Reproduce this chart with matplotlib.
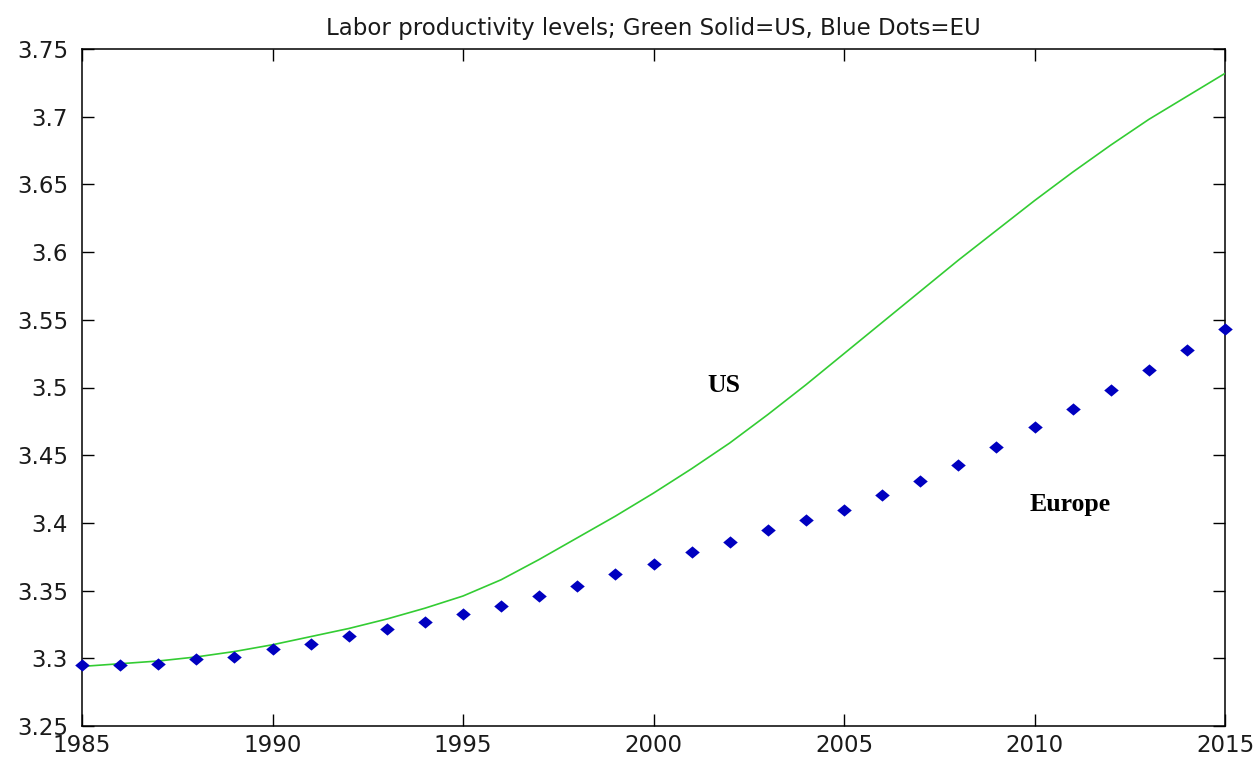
import matplotlib
matplotlib.use("Agg")
import matplotlib.pyplot as plt
from matplotlib.path import Path

years = list(range(1985, 2016))

us_levels = [3.294, 3.296, 3.298, 3.301, 3.305, 3.310, 3.316, 3.322, 3.329, 3.337,
             3.346, 3.358, 3.373, 3.389, 3.405, 3.422, 3.440, 3.459, 3.480, 3.502,
             3.525, 3.548, 3.571, 3.594, 3.616, 3.638, 3.659, 3.679, 3.698, 3.715,
             3.732]

eu_levels = [3.295, 3.295, 3.296, 3.2995, 3.301, 3.3067, 3.3108, 3.3167, 3.3214, 3.3269,
             3.333, 3.3389, 3.3463, 3.3535, 3.3621, 3.3695, 3.3784, 3.3858, 3.3946, 3.402,
             3.4096, 3.4207, 3.4313, 3.4429, 3.456, 3.4707, 3.4838, 3.4982, 3.5131, 3.5276,
             3.5435]

x_ticks = [1985, 1990, 1995, 2000, 2005, 2010, 2015]
y_ticks = [3.25, 3.3, 3.35, 3.4, 3.45, 3.5, 3.55, 3.6, 3.65, 3.7, 3.75]
y_tick_labels = ["3.25", "3.3", "3.35", "3.4", "3.45", "3.5", "3.55", "3.6", "3.65", "3.7", "3.75"]

title = "Labor productivity levels; Green Solid=US, Blue Dots=EU"

# slightly wide diamond marker
diamond = Path([(0, 0.42), (0.5, 0), (0, -0.42), (-0.5, 0), (0, 0.42)],
               [Path.MOVETO, Path.LINETO, Path.LINETO, Path.LINETO, Path.CLOSEPOLY])

fig = plt.figure(figsize=(12.6, 7.58), dpi=100)
ax = fig.add_axes([82 / 1260, 1 - 726 / 758, (1225 - 82) / 1260, (726 - 49) / 758])

ax.plot(years, us_levels, color="#33cc33", linewidth=1.2, zorder=3)
ax.plot(years, eu_levels, linestyle="none", marker=diamond, markersize=10.5,
        color="#0000c0", markeredgewidth=0, clip_on=False, zorder=4)

ax.set_xlim(1985, 2015)
ax.set_ylim(3.25, 3.75)
ax.set_xticks(x_ticks)
ax.set_xticklabels([str(y) for y in x_ticks])
ax.set_yticks(y_ticks)
ax.set_yticklabels(y_tick_labels)

ax.tick_params(axis="both", direction="in", length=8.5, width=1.0,
               top=True, right=True, labelsize=16.5, colors="black")
ax.tick_params(axis="y", pad=10)
ax.tick_params(axis="x", pad=6)
for lab in ax.get_xticklabels() + ax.get_yticklabels():
    lab.set_color("#1a1a1a")

for spine in ax.spines.values():
    spine.set_linewidth(1.1)
    spine.set_color("black")

ax.set_title(title, fontsize=16.5, pad=10, color="#1a1a1a")

ax.text(2001.85, 3.497, "US", family="Liberation Serif", fontweight="bold",
        fontsize=18.5, ha="center", va="baseline")
ax.text(2010.93, 3.409, "Europe", family="Liberation Serif", fontweight="bold",
        fontsize=18.5, ha="center", va="baseline")

fig.savefig("out.png", dpi=100, facecolor="white")
